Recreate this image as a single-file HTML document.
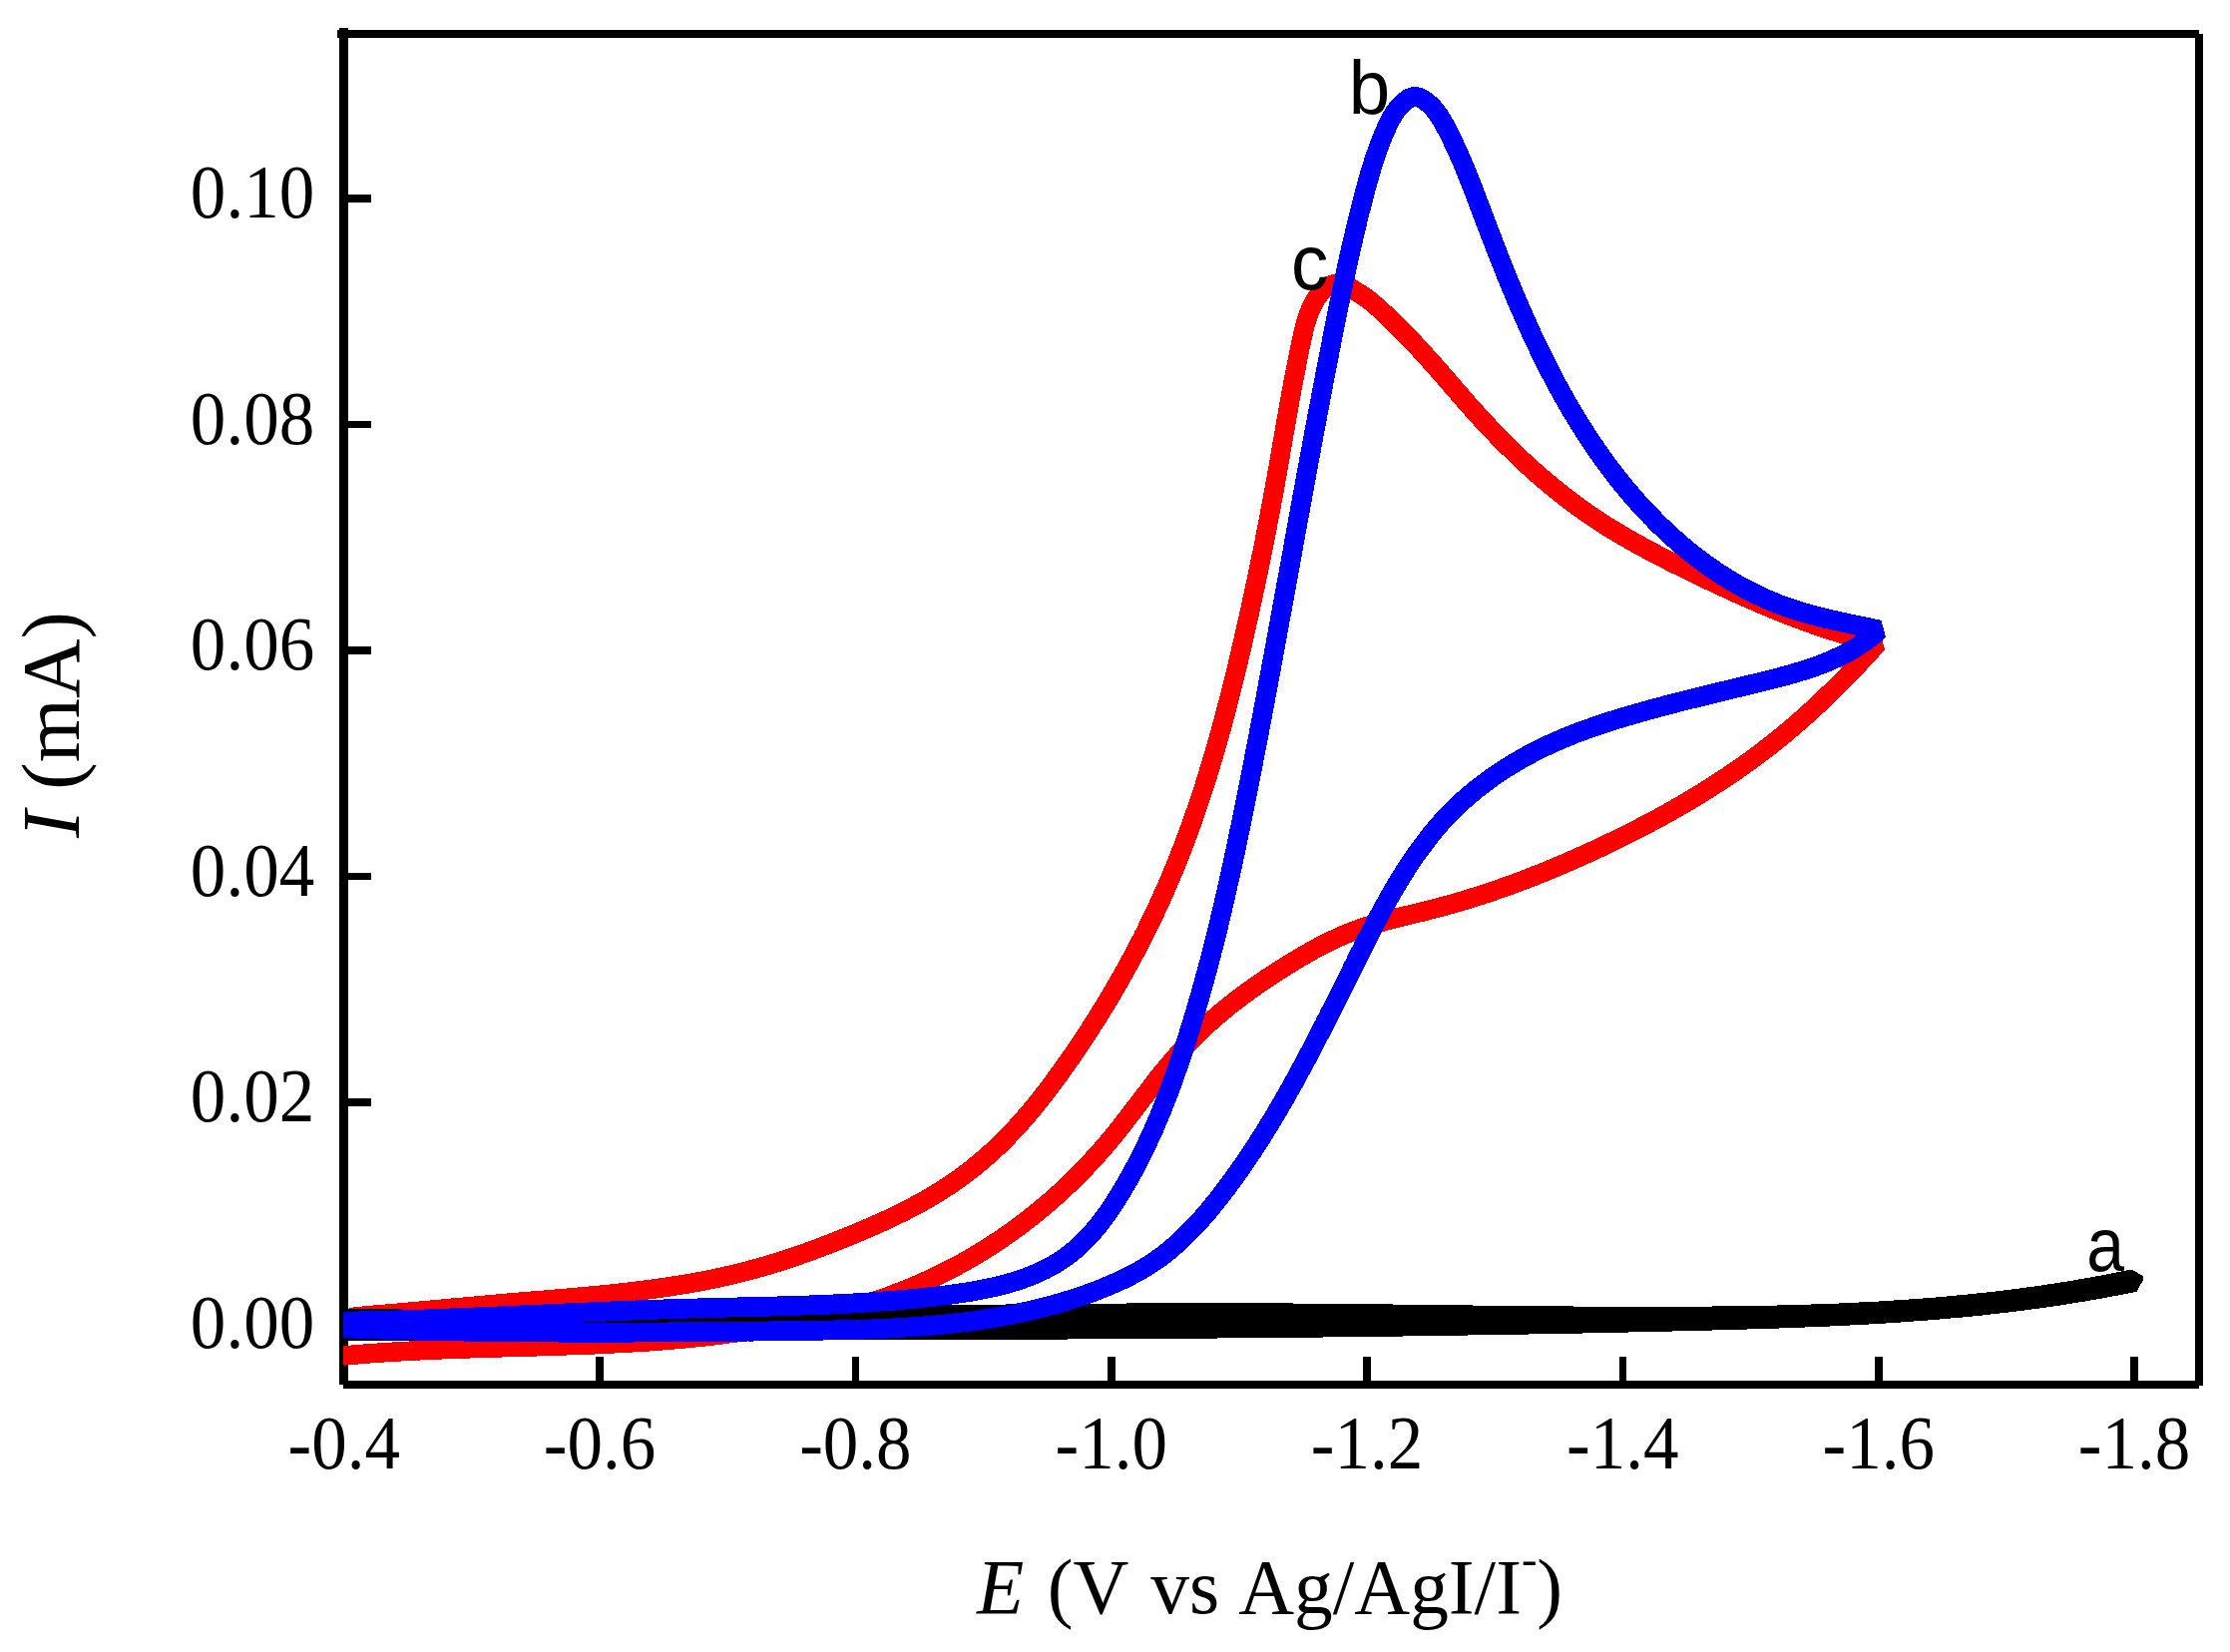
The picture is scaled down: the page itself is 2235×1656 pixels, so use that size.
<!DOCTYPE html>
<html lang="en"><head><meta charset="utf-8"><title>Cyclic voltammograms</title><style>html,body{margin:0;padding:0;background:#fff}svg{display:block}</style></head><body><svg width="2235" height="1656" viewBox="0 0 2235 1656">
<rect width="2235" height="1656" fill="#fff"/>
<g fill="#000" shape-rendering="crispEdges"><rect x="340" y="28" width="9" height="1360"/><rect x="338" y="30" width="1866" height="8"/><rect x="2200" y="34" width="8" height="1354.5"/><rect x="344" y="1384" width="1860" height="8"/><rect x="597.2" y="1360" width="7.6" height="26"/><rect x="853.6" y="1360" width="7.6" height="26"/><rect x="1109.9" y="1360" width="7.6" height="26"/><rect x="1366.2" y="1360" width="7.6" height="26"/><rect x="1622.5" y="1360" width="7.6" height="26"/><rect x="1878.9" y="1360" width="7.6" height="26"/><rect x="2135.2" y="1360" width="7.6" height="26"/><rect x="347" y="1327.3" width="25" height="7.8"/><rect x="347" y="1100.9" width="25" height="7.8"/><rect x="347" y="874.5" width="25" height="7.8"/><rect x="347" y="648.0" width="25" height="7.8"/><rect x="347" y="421.6" width="25" height="7.8"/><rect x="347" y="195.1" width="25" height="7.8"/></g>
<clipPath id="cp"><rect x="344" y="0" width="1900" height="1656"/></clipPath>
<g clip-path="url(#cp)" shape-rendering="crispEdges">
<path d="M343.8 1327.6L347.3 1323.7L351.6 1321.3L356.2 1320.0L361.2 1319.4L366.2 1319.0L371.2 1318.6L376.2 1318.1L381.3 1317.7L386.3 1317.3L391.3 1316.9L396.3 1316.4L401.2 1316.0L406.2 1315.5L411.2 1315.1L416.2 1314.6L421.2 1314.2L426.1 1313.7L431.1 1313.3L436.1 1312.8L441.0 1312.4L446.0 1311.9L451.0 1311.4L455.9 1311.0L460.9 1310.5L465.9 1310.1L470.8 1309.6L475.8 1309.2L480.8 1308.7L485.8 1308.3L490.7 1307.8L495.7 1307.4L500.7 1306.9L505.7 1306.5L510.7 1306.1L515.7 1305.6L520.7 1305.2L525.7 1304.8L530.7 1304.4L535.7 1304.0L540.7 1303.6L545.7 1303.2L550.7 1302.7L555.8 1302.3L560.8 1301.9L565.8 1301.5L570.8 1301.0L575.8 1300.6L580.9 1300.1L585.9 1299.7L590.9 1299.2L595.9 1298.7L601.0 1298.3L606.0 1297.8L611.0 1297.3L616.0 1296.7L621.0 1296.2L626.0 1295.6L631.0 1295.1L636.0 1294.5L641.0 1293.9L646.0 1293.2L651.0 1292.6L656.0 1291.9L661.0 1291.2L666.0 1290.5L670.9 1289.8L675.9 1289.0L680.8 1288.2L685.8 1287.4L690.7 1286.6L695.7 1285.7L700.6 1284.8L705.5 1283.9L710.4 1282.9L715.3 1281.9L720.2 1280.9L725.1 1279.8L730.0 1278.7L734.8 1277.6L739.7 1276.4L744.5 1275.2L749.3 1273.9L754.1 1272.6L759.0 1271.3L763.7 1270.0L768.5 1268.6L773.3 1267.1L778.1 1265.7L782.8 1264.2L787.6 1262.6L792.3 1261.1L797.0 1259.5L801.8 1257.8L806.5 1256.2L811.2 1254.5L815.9 1252.8L820.6 1251.1L825.2 1249.3L829.9 1247.5L834.6 1245.7L839.3 1243.8L843.9 1242.0L848.6 1240.1L853.2 1238.2L857.9 1236.3L862.5 1234.3L867.2 1232.3L871.8 1230.3L876.4 1228.3L881.0 1226.3L885.6 1224.2L890.2 1222.1L894.7 1219.9L899.2 1217.7L903.8 1215.5L908.3 1213.2L912.7 1210.9L917.2 1208.6L921.6 1206.2L926.0 1203.8L930.3 1201.3L934.7 1198.7L939.0 1196.2L943.2 1193.5L947.4 1190.8L951.6 1188.1L955.8 1185.3L959.9 1182.4L963.9 1179.5L967.9 1176.5L971.9 1173.5L975.8 1170.4L979.7 1167.2L983.5 1164.0L987.3 1160.8L991.1 1157.4L994.8 1154.1L998.5 1150.7L1002.1 1147.2L1005.7 1143.7L1009.2 1140.1L1012.7 1136.5L1016.2 1132.9L1019.6 1129.2L1022.9 1125.5L1026.3 1121.7L1029.6 1117.9L1032.8 1114.1L1036.0 1110.2L1039.2 1106.3L1042.3 1102.4L1045.4 1098.5L1048.5 1094.5L1051.5 1090.5L1054.6 1086.5L1057.5 1082.4L1060.5 1078.4L1063.4 1074.3L1066.3 1070.2L1069.2 1066.1L1072.1 1062.0L1075.0 1057.9L1077.8 1053.7L1080.6 1049.6L1083.4 1045.4L1086.2 1041.3L1088.9 1037.1L1091.7 1032.9L1094.4 1028.6L1097.1 1024.4L1099.8 1020.2L1102.4 1015.9L1105.0 1011.7L1107.7 1007.4L1110.2 1003.1L1112.8 998.8L1115.4 994.5L1117.9 990.1L1120.4 985.8L1122.9 981.4L1125.3 977.1L1127.8 972.7L1130.2 968.3L1132.6 963.9L1135.0 959.5L1137.3 955.1L1139.7 950.7L1142.0 946.2L1144.3 941.8L1146.5 937.3L1148.8 932.8L1151.0 928.3L1153.2 923.8L1155.3 919.3L1157.5 914.8L1159.6 910.3L1161.7 905.7L1163.8 901.2L1165.8 896.6L1167.9 892.0L1169.9 887.4L1171.9 882.8L1173.8 878.2L1175.8 873.6L1177.7 869.0L1179.5 864.3L1181.4 859.7L1183.2 855.0L1185.1 850.4L1186.9 845.7L1188.6 841.0L1190.4 836.3L1192.1 831.6L1193.8 826.9L1195.5 822.2L1197.1 817.4L1198.8 812.7L1200.4 807.9L1202.0 803.2L1203.6 798.4L1205.1 793.7L1206.7 788.9L1208.2 784.1L1209.7 779.3L1211.2 774.5L1212.6 769.7L1214.1 764.9L1215.5 760.1L1216.9 755.3L1218.3 750.5L1219.7 745.6L1221.1 740.8L1222.4 736.0L1223.8 731.1L1225.1 726.3L1226.4 721.4L1227.7 716.6L1229.0 711.7L1230.2 706.8L1231.5 702.0L1232.7 697.1L1234.0 692.2L1235.2 687.4L1236.4 682.5L1237.6 677.6L1238.8 672.7L1240.0 667.8L1241.1 662.9L1242.3 658.1L1243.4 653.2L1244.6 648.3L1245.7 643.4L1246.8 638.5L1247.9 633.6L1249.0 628.7L1250.1 623.8L1251.2 618.9L1252.3 614.1L1253.4 609.2L1254.4 604.3L1255.5 599.4L1256.5 594.5L1257.6 589.6L1258.6 584.7L1259.7 579.8L1260.7 574.9L1261.7 570.0L1262.7 565.1L1263.7 560.2L1264.7 555.3L1265.7 550.4L1266.7 545.5L1267.6 540.6L1268.6 535.7L1269.6 530.8L1270.5 525.8L1271.5 520.9L1272.4 516.0L1273.3 511.1L1274.2 506.2L1275.2 501.2L1276.1 496.3L1277.0 491.4L1277.9 486.4L1278.7 481.5L1279.6 476.6L1280.5 471.6L1281.4 466.7L1282.2 461.7L1283.1 456.8L1283.9 451.8L1284.8 446.9L1285.7 442.0L1286.5 437.0L1287.4 432.1L1288.2 427.1L1289.1 422.2L1290.0 417.2L1290.9 412.3L1291.7 407.3L1292.6 402.4L1293.5 397.4L1294.4 392.5L1295.3 387.6L1296.2 382.6L1297.2 377.7L1298.1 372.8L1299.1 367.9L1300.0 363.0L1301.0 358.1L1302.0 353.2L1303.0 348.3L1304.0 343.4L1305.1 338.5L1306.2 333.6L1307.3 328.8L1308.6 324.0L1310.1 319.2L1311.7 314.5L1313.6 309.8L1315.8 305.2L1318.3 300.7L1321.1 296.4L1324.4 292.4L1328.1 288.9L1332.3 286.3L1337.0 284.7L1341.9 284.3L1346.6 285.1L1351.1 287.1L1355.5 289.7L1359.8 292.5L1364.1 295.2L1368.3 298.0L1372.3 300.9L1376.2 304.1L1379.9 307.3L1383.6 310.7L1387.3 314.1L1390.9 317.5L1394.5 321.0L1398.1 324.5L1401.7 328.0L1405.2 331.6L1408.8 335.2L1412.3 338.8L1415.8 342.4L1419.2 346.1L1422.6 349.8L1426.0 353.5L1429.4 357.2L1432.8 360.9L1436.1 364.7L1439.4 368.4L1442.7 372.2L1446.0 375.9L1449.3 379.7L1452.5 383.5L1455.8 387.3L1459.1 391.1L1462.4 394.8L1465.6 398.6L1468.9 402.4L1472.2 406.1L1475.6 409.9L1478.9 413.6L1482.3 417.3L1485.6 421.0L1489.1 424.7L1492.5 428.3L1495.9 432.0L1499.4 435.6L1502.9 439.2L1506.4 442.8L1510.0 446.3L1513.6 449.8L1517.2 453.3L1520.8 456.8L1524.4 460.3L1528.1 463.7L1531.8 467.1L1535.5 470.5L1539.3 473.8L1543.0 477.1L1546.8 480.4L1550.7 483.6L1554.5 486.9L1558.4 490.0L1562.3 493.2L1566.2 496.3L1570.2 499.4L1574.2 502.4L1578.2 505.4L1582.2 508.4L1586.3 511.3L1590.4 514.2L1594.5 517.0L1598.6 519.8L1602.8 522.6L1607.0 525.3L1611.2 528.0L1615.5 530.6L1619.8 533.2L1624.1 535.8L1628.4 538.3L1632.7 540.8L1637.1 543.3L1641.4 545.7L1645.8 548.1L1650.3 550.5L1654.7 552.9L1659.1 555.2L1663.6 557.6L1668.0 559.8L1672.5 562.1L1677.0 564.4L1681.5 566.6L1686.0 568.8L1690.5 571.1L1695.0 573.3L1699.6 575.4L1704.1 577.6L1708.6 579.8L1713.1 581.9L1717.7 584.1L1722.2 586.2L1726.8 588.3L1731.3 590.4L1735.9 592.5L1740.4 594.6L1745.0 596.7L1749.6 598.7L1754.2 600.7L1758.8 602.7L1763.4 604.7L1768.0 606.7L1772.6 608.6L1777.2 610.5L1781.8 612.4L1786.5 614.3L1791.1 616.1L1795.8 617.9L1800.5 619.7L1805.2 621.4L1809.9 623.2L1814.6 624.9L1819.3 626.5L1824.0 628.1L1828.8 629.7L1833.5 631.3L1838.3 632.8L1843.1 634.2L1847.9 635.7L1852.7 637.1L1857.6 638.4L1862.4 639.7L1867.3 641.0L1872.2 642.2L1877.1 643.4L1882.0 644.5L1882.0 644.5L1878.7 648.2L1875.3 652.0L1871.9 655.7L1868.5 659.3L1865.1 663.0L1861.7 666.7L1858.2 670.3L1854.7 673.9L1851.3 677.6L1847.8 681.1L1844.2 684.7L1840.7 688.3L1837.1 691.8L1833.5 695.3L1829.9 698.8L1826.3 702.3L1822.6 705.7L1819.0 709.1L1815.3 712.5L1811.6 715.9L1807.8 719.2L1804.1 722.5L1800.3 725.8L1796.5 729.1L1792.7 732.3L1788.8 735.6L1785.0 738.7L1781.1 741.9L1777.1 745.0L1773.2 748.1L1769.2 751.2L1765.2 754.2L1761.2 757.2L1757.2 760.2L1753.2 763.2L1749.1 766.1L1745.0 769.0L1740.9 771.9L1736.7 774.7L1732.6 777.5L1728.4 780.3L1724.2 783.1L1720.0 785.8L1715.8 788.5L1711.5 791.2L1707.3 793.9L1703.0 796.5L1698.7 799.1L1694.4 801.7L1690.1 804.3L1685.7 806.8L1681.4 809.3L1677.0 811.8L1672.6 814.3L1668.2 816.7L1663.8 819.2L1659.4 821.6L1654.9 823.9L1650.5 826.3L1646.0 828.6L1641.6 830.9L1637.1 833.2L1632.6 835.5L1628.1 837.8L1623.6 840.0L1619.1 842.2L1614.5 844.4L1610.0 846.6L1605.4 848.7L1600.9 850.9L1596.3 853.0L1591.7 855.1L1587.2 857.2L1582.6 859.2L1578.0 861.3L1573.4 863.3L1568.8 865.3L1564.2 867.3L1559.5 869.2L1554.9 871.2L1550.3 873.1L1545.6 875.0L1541.0 876.8L1536.3 878.7L1531.6 880.5L1526.9 882.3L1522.2 884.1L1517.5 885.8L1512.8 887.5L1508.1 889.2L1503.4 890.9L1498.6 892.5L1493.9 894.2L1489.1 895.7L1484.3 897.3L1479.6 898.8L1474.8 900.3L1470.0 901.8L1465.2 903.3L1460.3 904.7L1455.5 906.1L1450.7 907.4L1445.8 908.7L1441.0 910.0L1436.1 911.3L1431.2 912.5L1426.3 913.8L1421.4 914.9L1416.5 916.1L1411.6 917.3L1406.7 918.5L1401.8 919.7L1397.0 920.9L1392.1 922.2L1387.2 923.5L1382.4 924.8L1377.6 926.2L1372.8 927.7L1368.1 929.2L1363.3 930.8L1358.6 932.5L1354.0 934.3L1349.3 936.1L1344.7 938.1L1340.2 940.1L1335.7 942.3L1331.2 944.4L1326.7 946.7L1322.2 949.0L1317.8 951.4L1313.4 953.8L1309.1 956.3L1304.7 958.8L1300.4 961.4L1296.1 964.0L1291.8 966.6L1287.5 969.3L1283.2 972.0L1279.0 974.7L1274.7 977.5L1270.5 980.2L1266.4 983.1L1262.2 985.9L1258.1 988.8L1253.9 991.7L1249.9 994.6L1245.8 997.6L1241.8 1000.6L1237.8 1003.7L1233.8 1006.8L1229.9 1009.9L1226.0 1013.1L1222.2 1016.3L1218.4 1019.5L1214.6 1022.8L1210.9 1026.2L1207.2 1029.5L1203.5 1033.0L1199.9 1036.4L1196.4 1040.0L1192.9 1043.5L1189.4 1047.2L1186.0 1050.8L1182.7 1054.5L1179.4 1058.3L1176.1 1062.1L1172.9 1065.9L1169.7 1069.8L1166.5 1073.7L1163.3 1077.6L1160.2 1081.5L1157.1 1085.5L1154.0 1089.5L1151.0 1093.5L1147.9 1097.5L1144.8 1101.5L1141.8 1105.5L1138.7 1109.5L1135.6 1113.5L1132.6 1117.5L1129.5 1121.5L1126.4 1125.5L1123.3 1129.5L1120.1 1133.4L1117.0 1137.4L1113.8 1141.3L1110.5 1145.2L1107.3 1149.0L1104.0 1152.8L1100.7 1156.6L1097.3 1160.3L1093.9 1164.1L1090.4 1167.7L1087.0 1171.4L1083.5 1175.0L1079.9 1178.6L1076.4 1182.1L1072.8 1185.6L1069.1 1189.1L1065.5 1192.6L1061.8 1196.0L1058.0 1199.3L1054.3 1202.7L1050.5 1205.9L1046.6 1209.2L1042.8 1212.4L1038.9 1215.6L1035.0 1218.7L1031.1 1221.8L1027.1 1224.9L1023.1 1227.9L1019.1 1230.9L1015.0 1233.9L1010.9 1236.8L1006.8 1239.6L1002.7 1242.5L998.5 1245.2L994.3 1248.0L990.1 1250.7L985.9 1253.3L981.6 1256.0L977.3 1258.5L973.0 1261.1L968.6 1263.6L964.3 1266.0L959.9 1268.4L955.5 1270.8L951.0 1273.1L946.6 1275.3L942.1 1277.6L937.6 1279.7L933.1 1281.9L928.5 1283.9L924.0 1286.0L919.4 1288.0L914.8 1289.9L910.2 1291.8L905.5 1293.7L900.9 1295.5L896.2 1297.3L891.5 1299.1L886.8 1300.8L882.1 1302.4L877.3 1304.0L872.5 1305.6L867.8 1307.2L863.0 1308.7L858.2 1310.2L853.4 1311.6L848.5 1313.0L843.7 1314.3L838.8 1315.7L834.0 1317.0L829.1 1318.2L824.2 1319.4L819.3 1320.6L814.4 1321.8L809.5 1322.9L804.5 1324.0L799.6 1325.1L794.6 1326.1L789.7 1327.1L784.7 1328.1L779.8 1329.0L774.8 1329.9L769.8 1330.8L764.8 1331.7L759.8 1332.5L754.8 1333.3L749.8 1334.1L744.8 1334.8L739.8 1335.5L734.8 1336.2L729.8 1336.9L724.8 1337.5L719.8 1338.2L714.8 1338.8L709.7 1339.4L704.7 1339.9L699.7 1340.4L694.7 1341.0L689.7 1341.5L684.7 1341.9L679.7 1342.4L674.7 1342.8L669.7 1343.3L664.7 1343.7L659.6 1344.0L654.6 1344.4L649.6 1344.8L644.6 1345.1L639.6 1345.4L634.6 1345.7L629.6 1346.0L624.6 1346.3L619.6 1346.6L614.6 1346.8L609.6 1347.1L604.6 1347.3L599.6 1347.6L594.6 1347.8L589.6 1348.0L584.6 1348.2L579.6 1348.4L574.6 1348.6L569.6 1348.7L564.6 1348.9L559.6 1349.1L554.6 1349.2L549.6 1349.4L544.6 1349.6L539.6 1349.7L534.6 1349.9L529.6 1350.0L524.6 1350.1L519.6 1350.3L514.6 1350.4L509.6 1350.6L504.6 1350.7L499.6 1350.9L494.6 1351.0L489.6 1351.1L484.6 1351.3L479.6 1351.5L474.6 1351.6L469.5 1351.8L464.5 1351.9L459.5 1352.1L454.5 1352.3L449.5 1352.5L444.5 1352.7L439.5 1352.9L434.4 1353.1L429.4 1353.3L424.4 1353.6L419.4 1353.8L414.4 1354.0L409.3 1354.3L404.3 1354.6L399.3 1354.9L394.2 1355.2L389.2 1355.5L384.2 1355.8L379.1 1356.2L374.1 1356.5L369.1 1356.9L364.0 1357.3L359.0 1357.7L353.9 1358.1L348.9 1358.6L343.8 1359.0" fill="none" stroke="#fe0000" stroke-width="19.5" stroke-linejoin="bevel" stroke-linecap="butt"/>
<path d="M344.0 1321.7L349.0 1321.8L354.0 1321.8L359.0 1321.9L364.1 1321.9L369.1 1322.0L374.1 1322.0L379.1 1322.1L384.2 1322.1L389.2 1322.1L394.2 1322.2L399.2 1322.2L404.2 1322.3L409.3 1322.3L414.3 1322.3L419.3 1322.3L424.3 1322.4L429.3 1322.4L434.4 1322.4L439.4 1322.4L444.4 1322.4L449.4 1322.4L454.4 1322.5L459.5 1322.5L464.5 1322.5L469.5 1322.5L474.5 1322.5L479.6 1322.5L484.6 1322.5L489.6 1322.5L494.6 1322.5L499.6 1322.5L504.7 1322.5L509.7 1322.5L514.7 1322.5L519.7 1322.4L524.7 1322.4L529.7 1322.4L534.8 1322.4L539.8 1322.4L544.8 1322.4L549.8 1322.3L554.8 1322.3L559.9 1322.3L564.9 1322.3L569.9 1322.2L574.9 1322.2L579.9 1322.2L585.0 1322.1L590.0 1322.1L595.0 1322.1L600.0 1322.0L605.0 1322.0L610.1 1322.0L615.1 1321.9L620.1 1321.9L625.1 1321.8L630.1 1321.8L635.1 1321.8L640.2 1321.7L645.2 1321.7L650.2 1321.6L655.2 1321.6L660.2 1321.5L665.3 1321.5L670.3 1321.4L675.3 1321.4L680.3 1321.3L685.3 1321.3L690.3 1321.2L695.4 1321.2L700.4 1321.1L705.4 1321.0L710.4 1321.0L715.4 1320.9L720.5 1320.9L725.5 1320.8L730.5 1320.8L735.5 1320.7L740.5 1320.6L745.5 1320.6L750.6 1320.5L755.6 1320.5L760.6 1320.4L765.6 1320.3L770.6 1320.3L775.6 1320.2L780.7 1320.1L785.7 1320.1L790.7 1320.0L795.7 1319.9L800.7 1319.9L805.7 1319.8L810.8 1319.7L815.8 1319.7L820.8 1319.6L825.8 1319.5L830.8 1319.5L835.8 1319.4L840.9 1319.3L845.9 1319.3L850.9 1319.2L855.9 1319.1L860.9 1319.1L866.0 1319.0L871.0 1318.9L876.0 1318.9L881.0 1318.8L886.0 1318.7L891.0 1318.7L896.1 1318.6L901.1 1318.5L906.1 1318.5L911.1 1318.4L916.1 1318.4L921.1 1318.3L926.2 1318.2L931.2 1318.2L936.2 1318.1L941.2 1318.0L946.2 1318.0L951.2 1317.9L956.3 1317.8L961.3 1317.8L966.3 1317.7L971.3 1317.7L976.3 1317.6L981.3 1317.6L986.4 1317.5L991.4 1317.4L996.4 1317.4L1001.4 1317.3L1006.4 1317.3L1011.4 1317.2L1016.5 1317.2L1021.5 1317.1L1026.5 1317.1L1031.5 1317.0L1036.5 1317.0L1041.5 1316.9L1046.6 1316.9L1051.6 1316.8L1056.6 1316.8L1061.6 1316.7L1066.6 1316.7L1071.7 1316.6L1076.7 1316.6L1081.7 1316.6L1086.7 1316.5L1091.7 1316.5L1096.7 1316.4L1101.8 1316.4L1106.8 1316.4L1111.8 1316.3L1116.8 1316.3L1121.8 1316.3L1126.8 1316.3L1131.9 1316.2L1136.9 1316.2L1141.9 1316.2L1146.9 1316.2L1151.9 1316.1L1157.0 1316.1L1162.0 1316.1L1167.0 1316.1L1172.0 1316.1L1177.0 1316.0L1182.0 1316.0L1187.1 1316.0L1192.1 1316.0L1197.1 1316.0L1202.1 1316.0L1207.1 1316.0L1212.2 1316.0L1217.2 1316.0L1222.2 1316.0L1227.2 1316.0L1232.2 1316.0L1237.2 1316.0L1242.3 1316.0L1247.3 1316.0L1252.3 1316.1L1257.3 1316.1L1262.3 1316.1L1267.4 1316.1L1272.4 1316.1L1277.4 1316.2L1282.4 1316.2L1287.4 1316.2L1292.5 1316.2L1297.5 1316.3L1302.5 1316.3L1307.5 1316.3L1312.5 1316.4L1317.6 1316.4L1322.6 1316.5L1327.6 1316.5L1332.6 1316.6L1337.6 1316.6L1342.7 1316.6L1347.7 1316.7L1352.7 1316.7L1357.7 1316.8L1362.7 1316.9L1367.8 1316.9L1372.8 1317.0L1377.8 1317.0L1382.8 1317.1L1387.8 1317.1L1392.9 1317.2L1397.9 1317.3L1402.9 1317.3L1407.9 1317.4L1412.9 1317.4L1418.0 1317.5L1423.0 1317.6L1428.0 1317.6L1433.0 1317.7L1438.0 1317.8L1443.1 1317.8L1448.1 1317.9L1453.1 1317.9L1458.1 1318.0L1463.1 1318.1L1468.2 1318.1L1473.2 1318.2L1478.2 1318.3L1483.2 1318.3L1488.2 1318.4L1493.3 1318.4L1498.3 1318.5L1503.3 1318.6L1508.3 1318.6L1513.4 1318.7L1518.4 1318.7L1523.4 1318.8L1528.4 1318.8L1533.4 1318.9L1538.5 1318.9L1543.5 1319.0L1548.5 1319.0L1553.5 1319.1L1558.5 1319.1L1563.6 1319.2L1568.6 1319.2L1573.6 1319.2L1578.6 1319.3L1583.6 1319.3L1588.7 1319.3L1593.7 1319.4L1598.7 1319.4L1603.7 1319.4L1608.7 1319.5L1613.8 1319.5L1618.8 1319.5L1623.8 1319.5L1628.8 1319.5L1633.8 1319.5L1638.9 1319.5L1643.9 1319.5L1648.9 1319.6L1653.9 1319.6L1658.9 1319.5L1664.0 1319.5L1669.0 1319.5L1674.0 1319.5L1679.0 1319.5L1684.0 1319.5L1689.1 1319.5L1694.1 1319.4L1699.1 1319.4L1704.1 1319.4L1709.1 1319.3L1714.2 1319.3L1719.2 1319.2L1724.2 1319.2L1729.2 1319.1L1734.2 1319.1L1739.2 1319.0L1744.3 1318.9L1749.3 1318.9L1754.3 1318.8L1759.3 1318.7L1764.3 1318.6L1769.4 1318.5L1774.4 1318.4L1779.4 1318.3L1784.4 1318.2L1789.4 1318.0L1794.4 1317.9L1799.4 1317.8L1804.5 1317.6L1809.5 1317.5L1814.5 1317.3L1819.5 1317.1L1824.5 1317.0L1829.5 1316.8L1834.5 1316.6L1839.5 1316.4L1844.5 1316.2L1849.6 1316.0L1854.6 1315.7L1859.6 1315.5L1864.6 1315.2L1869.6 1315.0L1874.6 1314.7L1879.6 1314.4L1884.6 1314.2L1889.6 1313.9L1894.6 1313.6L1899.6 1313.2L1904.6 1312.9L1909.6 1312.6L1914.6 1312.2L1919.6 1311.9L1924.6 1311.5L1929.6 1311.1L1934.6 1310.7L1939.6 1310.3L1944.6 1309.9L1949.6 1309.4L1954.5 1309.0L1959.5 1308.5L1964.5 1308.0L1969.5 1307.6L1974.5 1307.1L1979.5 1306.5L1984.5 1306.0L1989.4 1305.5L1994.4 1304.9L1999.4 1304.4L2004.4 1303.8L2009.4 1303.2L2014.3 1302.6L2019.3 1301.9L2024.3 1301.3L2029.3 1300.6L2034.2 1300.0L2039.2 1299.3L2044.2 1298.6L2049.1 1297.8L2054.1 1297.1L2059.0 1296.4L2064.0 1295.6L2069.0 1294.8L2073.9 1294.0L2078.9 1293.2L2083.8 1292.3L2088.8 1291.5L2093.7 1290.6L2098.7 1289.7L2103.6 1288.8L2108.6 1287.9L2113.5 1286.9L2118.5 1286.0L2123.4 1285.0L2128.4 1284.0L2133.3 1283.0L2138.2 1281.9L2139.3 1285.2L2134.4 1286.3L2129.5 1287.3L2124.5 1288.2L2119.6 1289.2L2114.6 1290.1L2109.7 1291.1L2104.8 1292.0L2099.8 1292.8L2094.9 1293.7L2089.9 1294.6L2085.0 1295.4L2080.0 1296.2L2075.1 1297.0L2070.1 1297.8L2065.2 1298.6L2060.2 1299.3L2055.2 1300.0L2050.3 1300.8L2045.3 1301.5L2040.3 1302.1L2035.4 1302.8L2030.4 1303.5L2025.4 1304.1L2020.5 1304.7L2015.5 1305.4L2010.5 1306.0L2005.5 1306.5L2000.6 1307.1L1995.6 1307.7L1990.6 1308.2L1985.6 1308.8L1980.6 1309.3L1975.6 1309.8L1970.6 1310.3L1965.7 1310.8L1960.7 1311.2L1955.7 1311.7L1950.7 1312.1L1945.7 1312.6L1940.7 1313.0L1935.7 1313.4L1930.7 1313.8L1925.7 1314.2L1920.7 1314.6L1915.7 1314.9L1910.7 1315.3L1905.7 1315.7L1900.7 1316.0L1895.7 1316.3L1890.7 1316.7L1885.7 1317.0L1880.7 1317.3L1875.7 1317.6L1870.7 1317.9L1865.7 1318.1L1860.6 1318.4L1855.6 1318.7L1850.6 1318.9L1845.6 1319.2L1840.6 1319.4L1835.6 1319.7L1830.6 1319.9L1825.5 1320.1L1820.5 1320.3L1815.5 1320.5L1810.5 1320.7L1805.5 1320.9L1800.5 1321.1L1795.4 1321.3L1790.4 1321.5L1785.4 1321.7L1780.4 1321.8L1775.4 1322.0L1770.3 1322.2L1765.3 1322.3L1760.3 1322.5L1755.3 1322.6L1750.3 1322.8L1745.2 1322.9L1740.2 1323.1L1735.2 1323.2L1730.2 1323.4L1725.1 1323.5L1720.1 1323.6L1715.1 1323.8L1710.1 1323.9L1705.0 1324.0L1700.0 1324.1L1695.0 1324.3L1690.0 1324.4L1685.0 1324.5L1679.9 1324.6L1674.9 1324.8L1669.9 1324.9L1664.9 1325.0L1659.8 1325.1L1654.8 1325.2L1649.8 1325.4L1644.8 1325.5L1639.7 1325.6L1634.7 1325.7L1629.7 1325.8L1624.7 1325.9L1619.7 1326.0L1614.6 1326.1L1609.6 1326.2L1604.6 1326.3L1599.6 1326.4L1594.5 1326.5L1589.5 1326.6L1584.5 1326.8L1579.5 1326.9L1574.4 1327.0L1569.4 1327.0L1564.4 1327.1L1559.4 1327.2L1554.4 1327.3L1549.3 1327.4L1544.3 1327.5L1539.3 1327.6L1534.3 1327.7L1529.2 1327.8L1524.2 1327.9L1519.2 1328.0L1514.2 1328.1L1509.2 1328.2L1504.1 1328.2L1499.1 1328.3L1494.1 1328.4L1489.1 1328.5L1484.0 1328.6L1479.0 1328.7L1474.0 1328.7L1469.0 1328.8L1463.9 1328.9L1458.9 1329.0L1453.9 1329.0L1448.9 1329.1L1443.9 1329.2L1438.8 1329.3L1433.8 1329.3L1428.8 1329.4L1423.8 1329.5L1418.7 1329.6L1413.7 1329.6L1408.7 1329.7L1403.7 1329.8L1398.6 1329.8L1393.6 1329.9L1388.6 1330.0L1383.6 1330.0L1378.6 1330.1L1373.5 1330.2L1368.5 1330.2L1363.5 1330.3L1358.5 1330.3L1353.4 1330.4L1348.4 1330.5L1343.4 1330.5L1338.4 1330.6L1333.4 1330.6L1328.3 1330.7L1323.3 1330.8L1318.3 1330.8L1313.3 1330.9L1308.2 1330.9L1303.2 1331.0L1298.2 1331.0L1293.2 1331.1L1288.2 1331.1L1283.1 1331.2L1278.1 1331.2L1273.1 1331.3L1268.1 1331.3L1263.0 1331.4L1258.0 1331.4L1253.0 1331.5L1248.0 1331.5L1242.9 1331.6L1237.9 1331.6L1232.9 1331.6L1227.9 1331.7L1222.9 1331.7L1217.8 1331.8L1212.8 1331.8L1207.8 1331.9L1202.8 1331.9L1197.7 1331.9L1192.7 1332.0L1187.7 1332.0L1182.7 1332.0L1177.7 1332.1L1172.6 1332.1L1167.6 1332.2L1162.6 1332.2L1157.6 1332.2L1152.5 1332.3L1147.5 1332.3L1142.5 1332.3L1137.5 1332.4L1132.5 1332.4L1127.4 1332.4L1122.4 1332.5L1117.4 1332.5L1112.4 1332.5L1107.3 1332.5L1102.3 1332.6L1097.3 1332.6L1092.3 1332.6L1087.3 1332.7L1082.2 1332.7L1077.2 1332.7L1072.2 1332.7L1067.2 1332.8L1062.1 1332.8L1057.1 1332.8L1052.1 1332.8L1047.1 1332.9L1042.1 1332.9L1037.0 1332.9L1032.0 1332.9L1027.0 1333.0L1022.0 1333.0L1016.9 1333.0L1011.9 1333.0L1006.9 1333.0L1001.9 1333.1L996.9 1333.1L991.8 1333.1L986.8 1333.1L981.8 1333.1L976.8 1333.2L971.7 1333.2L966.7 1333.2L961.7 1333.2L956.7 1333.2L951.7 1333.2L946.6 1333.3L941.6 1333.3L936.6 1333.3L931.6 1333.3L926.5 1333.3L921.5 1333.3L916.5 1333.4L911.5 1333.4L906.5 1333.4L901.4 1333.4L896.4 1333.4L891.4 1333.4L886.4 1333.4L881.3 1333.5L876.3 1333.5L871.3 1333.5L866.3 1333.5L861.3 1333.5L856.2 1333.5L851.2 1333.5L846.2 1333.5L841.2 1333.6L836.2 1333.6L831.1 1333.6L826.1 1333.6L821.1 1333.6L816.1 1333.6L811.0 1333.6L806.0 1333.6L801.0 1333.6L796.0 1333.6L791.0 1333.7L785.9 1333.7L780.9 1333.7L775.9 1333.7L770.9 1333.7L765.8 1333.7L760.8 1333.7L755.8 1333.7L750.8 1333.7L745.8 1333.7L740.7 1333.7L735.7 1333.8L730.7 1333.8L725.7 1333.8L720.6 1333.8L715.6 1333.8L710.6 1333.8L705.6 1333.8L700.6 1333.8L695.5 1333.8L690.5 1333.8L685.5 1333.8L680.5 1333.8L675.5 1333.9L670.4 1333.9L665.4 1333.9L660.4 1333.9L655.4 1333.9L650.3 1333.9L645.3 1333.9L640.3 1333.9L635.3 1333.9L630.3 1333.9L625.2 1333.9L620.2 1333.9L615.2 1333.9L610.2 1334.0L605.1 1334.0L600.1 1334.0L595.1 1334.0L590.1 1334.0L585.1 1334.0L580.0 1334.0L575.0 1334.0L570.0 1334.0L565.0 1334.0L560.0 1334.0L554.9 1334.1L549.9 1334.1L544.9 1334.1L539.9 1334.1L534.8 1334.1L529.8 1334.1L524.8 1334.1L519.8 1334.1L514.8 1334.1L509.7 1334.1L504.7 1334.2L499.7 1334.2L494.7 1334.2L489.6 1334.2L484.6 1334.2L479.6 1334.2L474.6 1334.2L469.6 1334.2L464.5 1334.2L459.5 1334.3L454.5 1334.3L449.5 1334.3L444.5 1334.3L439.4 1334.3L434.4 1334.3L429.4 1334.3L424.4 1334.4L419.3 1334.4L414.3 1334.4L409.3 1334.4L404.3 1334.4L399.3 1334.4L394.2 1334.4L389.2 1334.5L384.2 1334.5L379.2 1334.5L374.2 1334.5L369.1 1334.5L364.1 1334.6L359.1 1334.6L354.1 1334.6L349.0 1334.6L344.0 1334.6" fill="none" stroke="#000" stroke-width="19.5" stroke-linejoin="bevel" stroke-linecap="butt"/>
<path d="M344.1 1324.7L349.1 1324.6L354.1 1324.5L359.0 1324.4L364.0 1324.3L369.0 1324.2L374.0 1324.0L378.9 1323.9L383.9 1323.8L388.9 1323.6L393.9 1323.5L398.9 1323.3L403.9 1323.1L408.9 1323.0L413.9 1322.8L418.9 1322.6L423.9 1322.5L428.9 1322.3L433.9 1322.1L438.9 1321.9L443.9 1321.7L448.9 1321.5L453.9 1321.3L458.9 1321.1L464.0 1320.9L469.0 1320.7L474.0 1320.5L479.0 1320.3L484.0 1320.1L489.1 1319.8L494.1 1319.6L499.1 1319.4L504.1 1319.2L509.1 1318.9L514.2 1318.7L519.2 1318.5L524.2 1318.3L529.2 1318.0L534.3 1317.8L539.3 1317.6L544.3 1317.4L549.3 1317.1L554.4 1316.9L559.4 1316.7L564.4 1316.5L569.5 1316.2L574.5 1316.0L579.5 1315.8L584.5 1315.6L589.5 1315.4L594.6 1315.1L599.6 1314.9L604.6 1314.7L609.6 1314.5L614.6 1314.3L619.7 1314.1L624.7 1313.9L629.7 1313.7L634.7 1313.5L639.7 1313.3L644.7 1313.1L649.7 1312.9L654.7 1312.8L659.7 1312.6L664.8 1312.4L669.8 1312.3L674.8 1312.1L679.7 1311.9L684.7 1311.8L689.7 1311.6L694.7 1311.5L699.7 1311.4L704.7 1311.2L709.7 1311.1L714.7 1311.0L719.7 1310.9L724.6 1310.7L729.6 1310.6L734.6 1310.5L739.6 1310.4L744.5 1310.3L749.5 1310.2L754.5 1310.0L759.5 1309.9L764.4 1309.8L769.4 1309.7L774.4 1309.5L779.4 1309.4L784.3 1309.3L789.3 1309.1L794.3 1309.0L799.3 1308.8L804.2 1308.6L809.2 1308.5L814.2 1308.3L819.2 1308.1L824.2 1307.9L829.2 1307.7L834.1 1307.5L839.1 1307.2L844.1 1307.0L849.1 1306.7L854.1 1306.5L859.1 1306.2L864.1 1305.9L869.1 1305.6L874.1 1305.2L879.1 1304.9L884.2 1304.5L889.2 1304.1L894.2 1303.8L899.2 1303.3L904.3 1302.9L909.3 1302.5L914.3 1302.0L919.4 1301.5L924.4 1301.0L929.5 1300.4L934.5 1299.9L939.6 1299.3L944.7 1298.7L949.8 1298.1L954.8 1297.4L959.9 1296.7L965.0 1296.0L970.0 1295.2L975.0 1294.4L980.0 1293.5L985.0 1292.5L990.0 1291.5L994.9 1290.5L999.9 1289.3L1004.7 1288.1L1009.6 1286.8L1014.3 1285.4L1019.1 1283.9L1023.8 1282.4L1028.4 1280.7L1033.0 1279.0L1037.5 1277.1L1042.0 1275.1L1046.4 1273.0L1050.7 1270.8L1055.0 1268.5L1059.2 1266.0L1063.3 1263.4L1067.3 1260.7L1071.2 1257.8L1075.0 1254.8L1078.8 1251.7L1082.4 1248.4L1086.0 1244.9L1089.5 1241.4L1092.8 1237.7L1096.2 1233.9L1099.4 1230.1L1102.6 1226.1L1105.6 1222.1L1108.7 1218.0L1111.6 1213.8L1114.5 1209.5L1117.3 1205.2L1120.1 1200.9L1122.8 1196.5L1125.4 1192.1L1128.0 1187.7L1130.6 1183.3L1133.0 1178.8L1135.5 1174.4L1137.9 1169.9L1140.2 1165.4L1142.5 1160.9L1144.8 1156.4L1147.0 1151.9L1149.2 1147.4L1151.3 1142.8L1153.4 1138.3L1155.5 1133.7L1157.5 1129.1L1159.4 1124.6L1161.4 1120.0L1163.3 1115.3L1165.2 1110.7L1167.0 1106.1L1168.8 1101.5L1170.6 1096.8L1172.4 1092.1L1174.1 1087.5L1175.8 1082.8L1177.5 1078.1L1179.1 1073.4L1180.7 1068.7L1182.4 1064.0L1183.9 1059.3L1185.5 1054.6L1187.1 1049.8L1188.6 1045.1L1190.1 1040.4L1191.6 1035.6L1193.1 1030.9L1194.5 1026.1L1196.0 1021.3L1197.4 1016.5L1198.8 1011.8L1200.2 1007.0L1201.6 1002.2L1203.0 997.4L1204.3 992.6L1205.7 987.7L1207.0 982.9L1208.3 978.1L1209.6 973.3L1210.9 968.4L1212.2 963.6L1213.5 958.8L1214.7 953.9L1215.9 949.1L1217.2 944.2L1218.4 939.3L1219.6 934.5L1220.8 929.6L1222.0 924.7L1223.1 919.9L1224.3 915.0L1225.4 910.1L1226.6 905.2L1227.7 900.3L1228.8 895.4L1229.9 890.5L1231.0 885.6L1232.1 880.7L1233.2 875.8L1234.3 870.9L1235.4 866.0L1236.4 861.1L1237.5 856.2L1238.5 851.3L1239.6 846.4L1240.6 841.5L1241.6 836.5L1242.6 831.6L1243.7 826.7L1244.7 821.8L1245.7 816.9L1246.7 811.9L1247.7 807.0L1248.6 802.1L1249.6 797.2L1250.6 792.2L1251.6 787.3L1252.5 782.4L1253.5 777.5L1254.5 772.5L1255.4 767.6L1256.4 762.7L1257.3 757.8L1258.3 752.8L1259.2 747.9L1260.2 743.0L1261.1 738.1L1262.1 733.1L1263.0 728.2L1263.9 723.3L1264.9 718.4L1265.8 713.4L1266.7 708.5L1267.7 703.6L1268.6 698.7L1269.5 693.7L1270.4 688.8L1271.3 683.9L1272.3 679.0L1273.2 674.0L1274.1 669.1L1275.0 664.2L1275.9 659.3L1276.8 654.3L1277.7 649.4L1278.6 644.5L1279.5 639.6L1280.4 634.6L1281.3 629.7L1282.2 624.8L1283.1 619.9L1284.0 615.0L1284.9 610.0L1285.8 605.1L1286.7 600.2L1287.6 595.3L1288.5 590.3L1289.4 585.4L1290.3 580.5L1291.2 575.6L1292.1 570.6L1293.0 565.7L1293.9 560.8L1294.8 555.9L1295.7 551.0L1296.5 546.0L1297.4 541.1L1298.3 536.2L1299.2 531.3L1300.1 526.3L1301.0 521.4L1301.9 516.5L1302.8 511.6L1303.7 506.7L1304.6 501.7L1305.5 496.8L1306.4 491.9L1307.3 487.0L1308.2 482.0L1309.1 477.1L1310.0 472.2L1310.9 467.3L1311.8 462.3L1312.7 457.4L1313.7 452.5L1314.6 447.6L1315.5 442.7L1316.4 437.7L1317.3 432.8L1318.2 427.9L1319.2 423.0L1320.1 418.0L1321.0 413.1L1321.9 408.2L1322.9 403.3L1323.8 398.3L1324.7 393.4L1325.7 388.5L1326.6 383.6L1327.6 378.6L1328.5 373.7L1329.5 368.8L1330.4 363.9L1331.4 358.9L1332.3 354.0L1333.3 349.1L1334.3 344.2L1335.2 339.2L1336.2 334.3L1337.2 329.4L1338.2 324.5L1339.2 319.5L1340.1 314.6L1341.1 309.7L1342.1 304.8L1343.2 299.9L1344.2 294.9L1345.2 290.0L1346.2 285.1L1347.3 280.2L1348.3 275.3L1349.4 270.4L1350.4 265.5L1351.5 260.6L1352.6 255.7L1353.7 250.8L1354.8 245.9L1355.9 241.1L1357.1 236.2L1358.2 231.3L1359.4 226.4L1360.5 221.6L1361.7 216.7L1362.9 211.9L1364.2 207.1L1365.4 202.2L1366.6 197.4L1367.9 192.6L1369.2 187.8L1370.5 183.0L1371.9 178.2L1373.2 173.4L1374.7 168.6L1376.2 163.9L1377.7 159.1L1379.3 154.4L1381.0 149.7L1382.7 145.0L1384.5 140.3L1386.4 135.6L1388.4 130.9L1390.5 126.3L1392.7 121.7L1395.1 117.3L1397.7 113.0L1400.7 108.9L1404.0 105.1L1407.8 101.7L1412.0 98.7L1416.5 97.0L1421.1 97.2L1425.7 99.2L1429.9 102.1L1433.7 105.5L1437.2 109.2L1440.3 113.1L1443.2 117.3L1445.8 121.6L1448.3 126.0L1450.6 130.5L1452.9 135.0L1455.1 139.5L1457.3 144.0L1459.4 148.6L1461.5 153.1L1463.5 157.7L1465.5 162.3L1467.4 166.9L1469.3 171.5L1471.2 176.2L1473.0 180.8L1474.9 185.4L1476.7 190.1L1478.5 194.7L1480.2 199.4L1482.0 204.1L1483.8 208.7L1485.5 213.4L1487.3 218.1L1489.0 222.7L1490.8 227.4L1492.6 232.1L1494.4 236.8L1496.2 241.4L1498.0 246.1L1499.8 250.8L1501.6 255.5L1503.4 260.1L1505.3 264.8L1507.2 269.5L1509.0 274.1L1510.9 278.8L1512.8 283.4L1514.7 288.0L1516.7 292.7L1518.6 297.3L1520.6 301.9L1522.6 306.6L1524.6 311.2L1526.6 315.8L1528.6 320.4L1530.7 324.9L1532.7 329.5L1534.8 334.1L1536.9 338.6L1539.1 343.2L1541.2 347.7L1543.4 352.2L1545.6 356.7L1547.8 361.2L1550.1 365.7L1552.3 370.1L1554.6 374.6L1556.9 379.0L1559.3 383.5L1561.7 387.9L1564.1 392.2L1566.5 396.6L1568.9 401.0L1571.4 405.3L1573.9 409.6L1576.5 413.9L1579.1 418.2L1581.7 422.5L1584.3 426.7L1587.0 431.0L1589.7 435.2L1592.4 439.3L1595.2 443.5L1598.0 447.6L1600.8 451.8L1603.7 455.8L1606.6 459.9L1609.5 464.0L1612.5 468.0L1615.5 472.0L1618.6 476.0L1621.6 479.9L1624.8 483.8L1627.9 487.7L1631.2 491.6L1634.4 495.4L1637.7 499.2L1641.0 503.0L1644.4 506.7L1647.8 510.4L1651.2 514.1L1654.7 517.7L1658.3 521.3L1661.8 524.9L1665.4 528.4L1669.1 531.9L1672.7 535.3L1676.4 538.7L1680.2 542.0L1684.0 545.3L1687.8 548.6L1691.7 551.8L1695.6 554.9L1699.5 558.0L1703.5 561.1L1707.5 564.0L1711.6 567.0L1715.7 569.8L1719.8 572.7L1724.0 575.4L1728.2 578.1L1732.4 580.7L1736.7 583.3L1741.0 585.8L1745.4 588.2L1749.8 590.6L1754.2 592.9L1758.7 595.1L1763.2 597.3L1767.7 599.4L1772.3 601.4L1776.9 603.3L1781.5 605.2L1786.2 607.0L1790.9 608.7L1795.7 610.3L1800.4 611.9L1805.3 613.3L1810.1 614.8L1814.9 616.1L1819.8 617.4L1824.7 618.7L1829.6 619.9L1834.5 621.0L1839.5 622.1L1844.4 623.2L1849.3 624.3L1854.2 625.4L1859.2 626.4L1864.1 627.4L1868.9 628.4L1873.8 629.4L1878.7 630.5L1883.5 631.5L1883.5 631.5L1879.6 634.9L1875.7 638.2L1871.7 641.2L1867.6 644.2L1863.4 647.0L1859.2 649.7L1854.9 652.2L1850.5 654.6L1846.1 656.9L1841.6 659.0L1837.1 661.1L1832.6 663.1L1827.9 665.0L1823.3 666.7L1818.6 668.4L1813.9 670.1L1809.2 671.6L1804.4 673.1L1799.6 674.5L1794.7 675.9L1789.9 677.3L1785.0 678.6L1780.2 679.8L1775.3 681.1L1770.4 682.3L1765.5 683.5L1760.6 684.7L1755.7 685.9L1750.9 687.1L1746.0 688.2L1741.1 689.4L1736.2 690.6L1731.3 691.8L1726.5 692.9L1721.6 694.1L1716.7 695.3L1711.9 696.5L1707.0 697.7L1702.1 698.9L1697.3 700.1L1692.4 701.3L1687.6 702.5L1682.7 703.7L1677.9 705.0L1673.0 706.2L1668.2 707.5L1663.4 708.8L1658.5 710.1L1653.7 711.4L1648.9 712.7L1644.1 714.1L1639.2 715.5L1634.4 716.9L1629.6 718.3L1624.8 719.7L1620.0 721.2L1615.2 722.7L1610.5 724.2L1605.7 725.8L1600.9 727.3L1596.2 729.0L1591.5 730.7L1586.7 732.4L1582.0 734.1L1577.3 735.9L1572.7 737.8L1568.0 739.7L1563.4 741.7L1558.8 743.7L1554.2 745.7L1549.6 747.9L1545.1 750.1L1540.6 752.3L1536.1 754.6L1531.6 757.0L1527.2 759.4L1522.8 761.9L1518.5 764.4L1514.2 767.0L1509.9 769.7L1505.7 772.4L1501.5 775.2L1497.3 778.0L1493.3 780.9L1489.2 783.9L1485.2 786.9L1481.3 789.9L1477.4 793.1L1473.5 796.3L1469.8 799.5L1466.0 802.8L1462.4 806.2L1458.8 809.6L1455.2 813.1L1451.8 816.7L1448.4 820.3L1445.0 823.9L1441.7 827.7L1438.5 831.4L1435.3 835.3L1432.2 839.2L1429.2 843.1L1426.2 847.1L1423.2 851.1L1420.3 855.1L1417.4 859.2L1414.6 863.4L1411.8 867.5L1409.1 871.8L1406.4 876.0L1403.8 880.3L1401.1 884.6L1398.6 888.9L1396.0 893.3L1393.5 897.7L1391.0 902.1L1388.5 906.5L1386.1 910.9L1383.7 915.4L1381.3 919.9L1378.9 924.4L1376.6 928.9L1374.2 933.4L1371.9 937.9L1369.6 942.4L1367.3 947.0L1365.1 951.5L1362.8 956.0L1360.5 960.6L1358.3 965.1L1356.0 969.6L1353.8 974.2L1351.5 978.7L1349.3 983.2L1347.0 987.7L1344.8 992.2L1342.5 996.7L1340.3 1001.2L1338.0 1005.7L1335.8 1010.2L1333.5 1014.6L1331.3 1019.1L1329.0 1023.6L1326.8 1028.1L1324.5 1032.5L1322.2 1037.0L1319.9 1041.4L1317.6 1045.8L1315.3 1050.3L1313.0 1054.7L1310.7 1059.1L1308.4 1063.5L1306.0 1067.9L1303.6 1072.3L1301.3 1076.6L1298.9 1081.0L1296.5 1085.4L1294.1 1089.7L1291.6 1094.1L1289.2 1098.4L1286.7 1102.7L1284.2 1107.0L1281.7 1111.3L1279.2 1115.6L1276.7 1119.9L1274.1 1124.1L1271.5 1128.4L1268.9 1132.6L1266.3 1136.9L1263.6 1141.1L1260.9 1145.3L1258.2 1149.5L1255.5 1153.7L1252.7 1157.8L1249.9 1162.0L1247.1 1166.1L1244.2 1170.3L1241.3 1174.4L1238.4 1178.5L1235.5 1182.6L1232.5 1186.6L1229.5 1190.7L1226.4 1194.7L1223.3 1198.8L1220.2 1202.8L1217.0 1206.7L1213.8 1210.7L1210.6 1214.6L1207.3 1218.4L1204.0 1222.2L1200.6 1226.0L1197.1 1229.7L1193.6 1233.3L1190.1 1236.9L1186.5 1240.4L1182.8 1243.8L1179.1 1247.2L1175.3 1250.5L1171.5 1253.7L1167.6 1256.8L1163.6 1259.9L1159.5 1262.8L1155.4 1265.6L1151.2 1268.3L1147.0 1271.0L1142.6 1273.5L1138.3 1276.0L1133.8 1278.3L1129.4 1280.6L1124.8 1282.8L1120.3 1284.9L1115.7 1286.9L1111.1 1288.9L1106.4 1290.8L1101.8 1292.7L1097.1 1294.5L1092.4 1296.2L1087.7 1297.9L1082.9 1299.5L1078.2 1301.1L1073.5 1302.7L1068.7 1304.1L1063.9 1305.6L1059.1 1307.0L1054.3 1308.3L1049.5 1309.6L1044.7 1310.8L1039.9 1312.1L1035.0 1313.2L1030.2 1314.3L1025.3 1315.4L1020.5 1316.4L1015.6 1317.4L1010.7 1318.4L1005.8 1319.3L1000.9 1320.2L995.9 1321.0L991.0 1321.8L986.1 1322.6L981.1 1323.3L976.2 1324.0L971.2 1324.7L966.3 1325.3L961.3 1325.9L956.3 1326.5L951.3 1327.0L946.3 1327.5L941.3 1328.0L936.3 1328.5L931.3 1328.9L926.3 1329.3L921.3 1329.7L916.3 1330.1L911.3 1330.4L906.2 1330.7L901.2 1331.0L896.2 1331.3L891.1 1331.6L886.1 1331.8L881.0 1332.1L876.0 1332.3L870.9 1332.5L865.9 1332.6L860.8 1332.8L855.8 1332.9L850.7 1333.1L845.7 1333.2L840.6 1333.3L835.6 1333.4L830.5 1333.5L825.5 1333.6L820.4 1333.7L815.3 1333.8L810.3 1333.9L805.2 1334.0L800.2 1334.0L795.1 1334.1L790.1 1334.2L785.1 1334.2L780.0 1334.3L775.0 1334.3L769.9 1334.4L764.9 1334.5L759.9 1334.5L754.9 1334.6L749.8 1334.6L744.8 1334.7L739.8 1334.7L734.8 1334.8L729.7 1334.9L724.7 1334.9L719.7 1335.0L714.7 1335.0L709.7 1335.0L704.7 1335.1L699.7 1335.1L694.7 1335.2L689.6 1335.2L684.6 1335.3L679.6 1335.3L674.6 1335.3L669.6 1335.4L664.6 1335.4L659.6 1335.4L654.6 1335.5L649.6 1335.5L644.6 1335.5L639.6 1335.5L634.6 1335.6L629.6 1335.6L624.7 1335.6L619.7 1335.6L614.7 1335.6L609.7 1335.6L604.7 1335.6L599.7 1335.6L594.7 1335.6L589.7 1335.6L584.7 1335.6L579.7 1335.6L574.7 1335.6L569.7 1335.6L564.7 1335.6L559.7 1335.6L554.7 1335.5L549.7 1335.5L544.8 1335.5L539.8 1335.5L534.8 1335.4L529.8 1335.4L524.8 1335.4L519.8 1335.3L514.8 1335.3L509.8 1335.2L504.8 1335.2L499.8 1335.1L494.8 1335.0L489.8 1335.0L484.7 1334.9L479.7 1334.8L474.7 1334.8L469.7 1334.7L464.7 1334.6L459.7 1334.5L454.7 1334.4L449.7 1334.3L444.6 1334.2L439.6 1334.1L434.6 1334.0L429.6 1333.9L424.5 1333.8L419.5 1333.7L414.5 1333.5L409.5 1333.4L404.4 1333.3L399.4 1333.1L394.3 1333.0L389.3 1332.8L384.3 1332.7L379.2 1332.5L374.2 1332.4L369.1 1332.2L364.0 1332.0L359.0 1331.8L353.9 1331.6L348.9 1331.5L343.8 1331.3" fill="none" stroke="#0000fe" stroke-width="19.8" stroke-linejoin="bevel" stroke-linecap="butt"/>
</g>
<text transform="translate(344.7 1471.5) scale(0.935 1)" text-anchor="middle" font-family="'Liberation Serif','Times New Roman',serif" font-size="76">-0.4</text>
<text transform="translate(601.0 1471.5) scale(0.935 1)" text-anchor="middle" font-family="'Liberation Serif','Times New Roman',serif" font-size="76">-0.6</text>
<text transform="translate(857.4 1471.5) scale(0.935 1)" text-anchor="middle" font-family="'Liberation Serif','Times New Roman',serif" font-size="76">-0.8</text>
<text transform="translate(1113.7 1471.5) scale(0.935 1)" text-anchor="middle" font-family="'Liberation Serif','Times New Roman',serif" font-size="76">-1.0</text>
<text transform="translate(1370.0 1471.5) scale(0.935 1)" text-anchor="middle" font-family="'Liberation Serif','Times New Roman',serif" font-size="76">-1.2</text>
<text transform="translate(1626.3 1471.5) scale(0.935 1)" text-anchor="middle" font-family="'Liberation Serif','Times New Roman',serif" font-size="76">-1.4</text>
<text transform="translate(1882.7 1471.5) scale(0.935 1)" text-anchor="middle" font-family="'Liberation Serif','Times New Roman',serif" font-size="76">-1.6</text>
<text transform="translate(2139.0 1471.5) scale(0.935 1)" text-anchor="middle" font-family="'Liberation Serif','Times New Roman',serif" font-size="76">-1.8</text>
<text transform="translate(315.2 1350.5) scale(0.935 1)" text-anchor="end" font-family="'Liberation Serif','Times New Roman',serif" font-size="76">0.00</text>
<text transform="translate(315.2 1124.1) scale(0.935 1)" text-anchor="end" font-family="'Liberation Serif','Times New Roman',serif" font-size="76">0.02</text>
<text transform="translate(315.2 897.6) scale(0.935 1)" text-anchor="end" font-family="'Liberation Serif','Times New Roman',serif" font-size="76">0.04</text>
<text transform="translate(315.2 671.2) scale(0.935 1)" text-anchor="end" font-family="'Liberation Serif','Times New Roman',serif" font-size="76">0.06</text>
<text transform="translate(315.2 444.8) scale(0.935 1)" text-anchor="end" font-family="'Liberation Serif','Times New Roman',serif" font-size="76">0.08</text>
<text transform="translate(315.2 218.3) scale(0.935 1)" text-anchor="end" font-family="'Liberation Serif','Times New Roman',serif" font-size="76">0.10</text>
<text transform="translate(1272.6 1617) scale(1 1)" text-anchor="middle" word-spacing="4" font-family="'Liberation Serif','Times New Roman',serif" font-size="77.4"><tspan font-style="italic">E</tspan> (V vs Ag/AgI/I<tspan font-size="46.4" dy="-38.7">-</tspan><tspan dy="38.7">)</tspan></text>
<text transform="translate(78.5 726.5) rotate(-90) scale(1 1)" text-anchor="middle" font-family="'Liberation Serif','Times New Roman',serif" font-size="82.6"><tspan font-style="italic">I</tspan> (mA)</text>
<text transform="translate(2091.3 1274.3) scale(0.9 1)" font-family="'Liberation Sans',Arial,sans-serif" font-size="75.5">a</text>
<text transform="translate(1351.8 114) scale(0.98 1)" font-family="'Liberation Sans',Arial,sans-serif" font-size="76">b</text>
<text transform="translate(1294 289.7) scale(0.97 1)" font-family="'Liberation Sans',Arial,sans-serif" font-size="77">c</text>
</svg></body></html>
